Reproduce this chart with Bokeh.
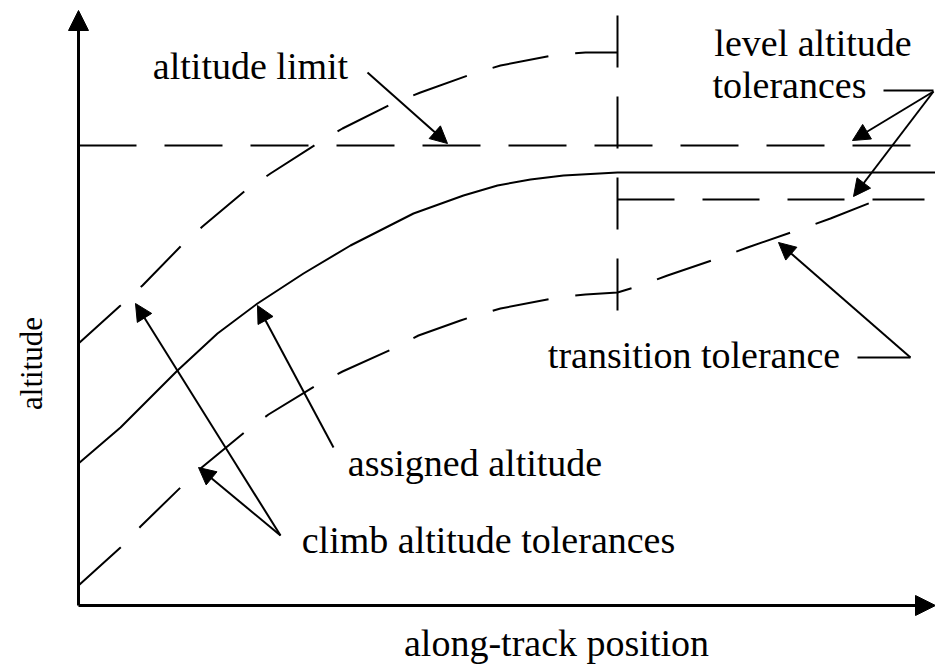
from bokeh.plotting import figure
from bokeh.models import Range1d, Arrow, NormalHead, ColumnDataSource
from bokeh.core.properties import value
from bokeh.embed import file_html
from bokeh.resources import INLINE

# ---- data (drawing units: along-track position x, altitude y, origin at the axes' corner)
assigned_x = [0, 42, 99, 139, 179, 225, 272, 335, 385, 419, 452, 485, 539, 857]
assigned_y = [142, 178, 235, 272, 302, 332, 360, 392, 410, 420, 426, 430, 433, 433]

climb_upper_x = [0, 42, 64, 102, 124, 167, 192, 239, 264, 314, 342, 395, 422, 479, 507, 539]
climb_upper_y = [262, 300, 320, 359, 379, 415, 432, 462, 477, 502, 513, 532, 540, 551, 553, 553]

climb_lower_x = [0, 42, 62, 102, 122, 167, 190, 239, 264, 315, 340, 382, 394, 422, 479, 507, 539]
climb_lower_y = [20, 58, 79, 118, 137, 174, 191, 221, 234, 257, 270, 285, 289, 297, 308, 311, 313]

transition_x = [539, 562, 589, 642, 669, 724, 752, 800]
transition_y = [313, 320, 330, 348, 358, 377, 387, 406]

altitude_limit = 460          # also the upper level altitude tolerance
level_lower = 406             # lower level altitude tolerance
transition_pos = 539          # along-track position of the transition
transition_top = 590
transition_bottom = 288
limit_end = 837
level_lower_end = 846
axis_x_end = 857
axis_y_end = 595

labels = ["altitude limit", "level altitude", "tolerances", "transition tolerance",
          "assigned altitude", "climb altitude tolerances"]
label_x = [172, 734.5, 711, 615.5, 396.5, 410]
label_y = [540, 563, 521, 251, 143, 66]

# annotation arrows (start -> tip)
arrow_x0 = [289, 855, 855, 832, 255, 202, 202]
arrow_y0 = [533, 514, 514, 248, 158, 70, 70]
arrow_x1 = [369, 774, 775, 700, 179, 120, 57]
arrow_y1 = [462, 465, 409, 363, 300, 138, 302]

# plain leader lines
leader_x0 = [805, 779]
leader_y0 = [515, 248]
leader_x1 = [855, 832]
leader_y1 = [515, 248]

# ---- figure (the page is drawn edge to edge: 935 x 668)
p = figure(width=935, height=668, x_range=Range1d(-78, 857), y_range=Range1d(-63, 605),
           output_backend="svg", toolbar_location=None, min_border=0,
           x_axis_type=None, y_axis_type=None)
p.grid.visible = False
p.outline_line_color = None
p.background_fill_color = "white"
p.border_fill_color = "white"

dash = "57 27"
lw = 2

p.line(assigned_x, assigned_y, line_color="black", line_width=lw)
p.line(climb_upper_x, climb_upper_y, line_color="black", line_width=lw, line_dash=dash)
p.line(climb_lower_x + transition_x[1:], climb_lower_y + transition_y[1:],
       line_color="black", line_width=lw, line_dash=dash)
p.line([0, limit_end], [altitude_limit, altitude_limit], line_color="black",
       line_width=lw, line_dash="58 28")
p.line([transition_pos, level_lower_end], [level_lower, level_lower], line_color="black",
       line_width=lw, line_dash="57 28")
p.line([transition_pos, transition_pos], [transition_top, transition_bottom],
       line_color="black", line_width=lw, line_dash="52 29")

# axes as arrows
for (xs, ys, xe, ye) in [(0, 0, axis_x_end, 0), (0, 0, 0, axis_y_end)]:
    p.add_layout(Arrow(end=NormalHead(size=20, fill_color="black", line_color="black"),
                       x_start=xs, y_start=ys, x_end=xe, y_end=ye,
                       line_width=3, line_color="black"))

# annotation arrows
asrc = ColumnDataSource(dict(x0=arrow_x0, y0=arrow_y0, x1=arrow_x1, y1=arrow_y1))
p.add_layout(Arrow(end=NormalHead(size=17, fill_color="black", line_color="black"),
                   x_start="x0", y_start="y0", x_end="x1", y_end="y1",
                   line_width=2, line_color="black", source=asrc))
p.segment(leader_x0, leader_y0, leader_x1, leader_y1, line_color="black", line_width=2)

font = value("Liberation Serif")
p.text(label_x, label_y, text=labels, text_font=font, text_font_size="38px",
       text_align="center", text_baseline="alphabetic", text_color="black")
p.text([478], [-37], text=["along-track position"], text_font=font, text_font_size="38px",
       text_align="center", text_baseline="alphabetic", text_color="black")
p.text([-47], [242], text=["altitude"], text_font=font, text_font_size="31px",
       text_align="center", text_baseline="alphabetic", text_color="black", angle=1.5708)

open("out.html", "w").write(file_html(p, INLINE))
